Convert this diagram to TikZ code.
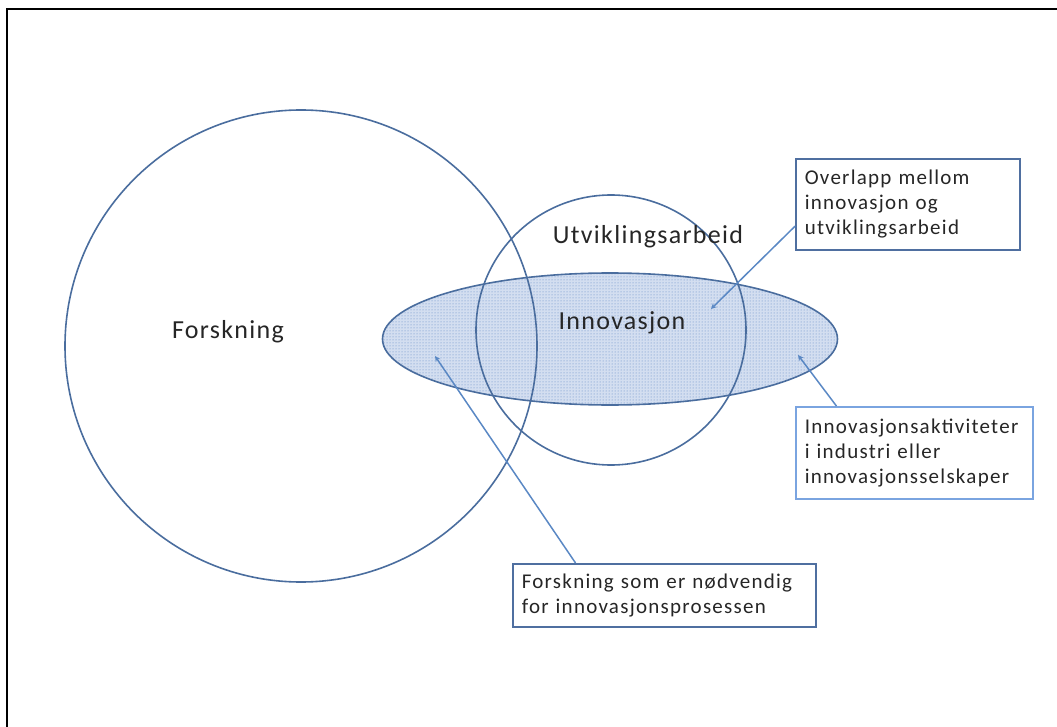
\documentclass[tikz,border=0pt]{standalone}
\usepackage{fontspec}
\setmainfont{Carlito}
\newfontfamily\lblfont[LetterSpace=5]{Carlito}
\newfontfamily\notefont[LetterSpace=6]{Carlito}
\usetikzlibrary{shapes.geometric,patterns}
\definecolor{ringblue}{HTML}{4A6D9E}
\definecolor{noteblue}{HTML}{4F6FA0}
\definecolor{lightnote}{HTML}{7AA4E0}
\definecolor{linkblue}{HTML}{5A88C4}
\definecolor{dotblue}{HTML}{5A84C4}
\definecolor{dotback}{HTML}{D3DEF0}
\definecolor{txtgray}{HTML}{262626}

\begin{document}
\begin{tikzpicture}
    [x=1pt,y=-1pt,>=stealth,
     ring/.style={circle,draw=ringblue,line width=1.6pt,inner sep=0pt},
     lbl/.style={font=\lblfont\fontsize{26}{30}\selectfont,text=txtgray},
     note/.style={draw=noteblue,line width=1.6pt,anchor=north west,align=left,
                  inner xsep=9pt,font=\notefont\fontsize{21}{25}\selectfont,text=txtgray},
     pointer/.style={->,draw=linkblue,line width=1.5pt}]
    \useasboundingbox (0,0) rectangle (1057,727);

    %Frame
    \draw[black,line width=2.5pt] (7,727) -- (7,9) -- (1057,9);

    %Sets
    \node[ellipse,draw=ringblue,line width=1.6pt,inner sep=0pt,
          minimum width=455pt,minimum height=132pt,
          preaction={fill=dotback},pattern=dots,pattern color=dotblue] (innov) at (610,339) {};
    \node[ring,minimum size=472pt] (forsk) at (301,346) {};
    \node[ring,minimum size=270pt] (utvik) at (611,330) {};

    %Labels
    \node[lbl] (forsklbl) at (228,332) {Forskning};
    \node[lbl] (utviklbl) at (648,237) {Utviklingsarbeid};
    \node[lbl] (innovlbl) at (622,323) {Innovasjon};

    %Notes
    \node[note,text width=206pt,minimum height=91pt] (overlapp) at (795,158)
        {Overlapp mellom\\innovasjon og\\utviklingsarbeid};
    \node[note,draw=lightnote,text width=219pt,minimum height=92pt] (aktivitet) at (795,406)
        {Innovasjonsaktiviteter\\i industri eller\\innovasjonsselskaper};
    \node[note,text width=285pt,minimum height=63pt] (nodvendig) at (512,563)
        {Forskning som er nødvendig\\for innovasjonsprosessen};

    %Pointers
    \coordinate (tipoverlapp) at (711,309);
    \coordinate (tipaktivitet) at (798,355);
    \coordinate (tipnodvendig) at (435,356);
    \draw[pointer] (overlapp.191) -- (tipoverlapp);
    \draw[pointer] (aktivitet.149) -- (tipaktivitet);
    \draw[pointer] (nodvendig.160) -- (tipnodvendig);

\end{tikzpicture}
\end{document}
